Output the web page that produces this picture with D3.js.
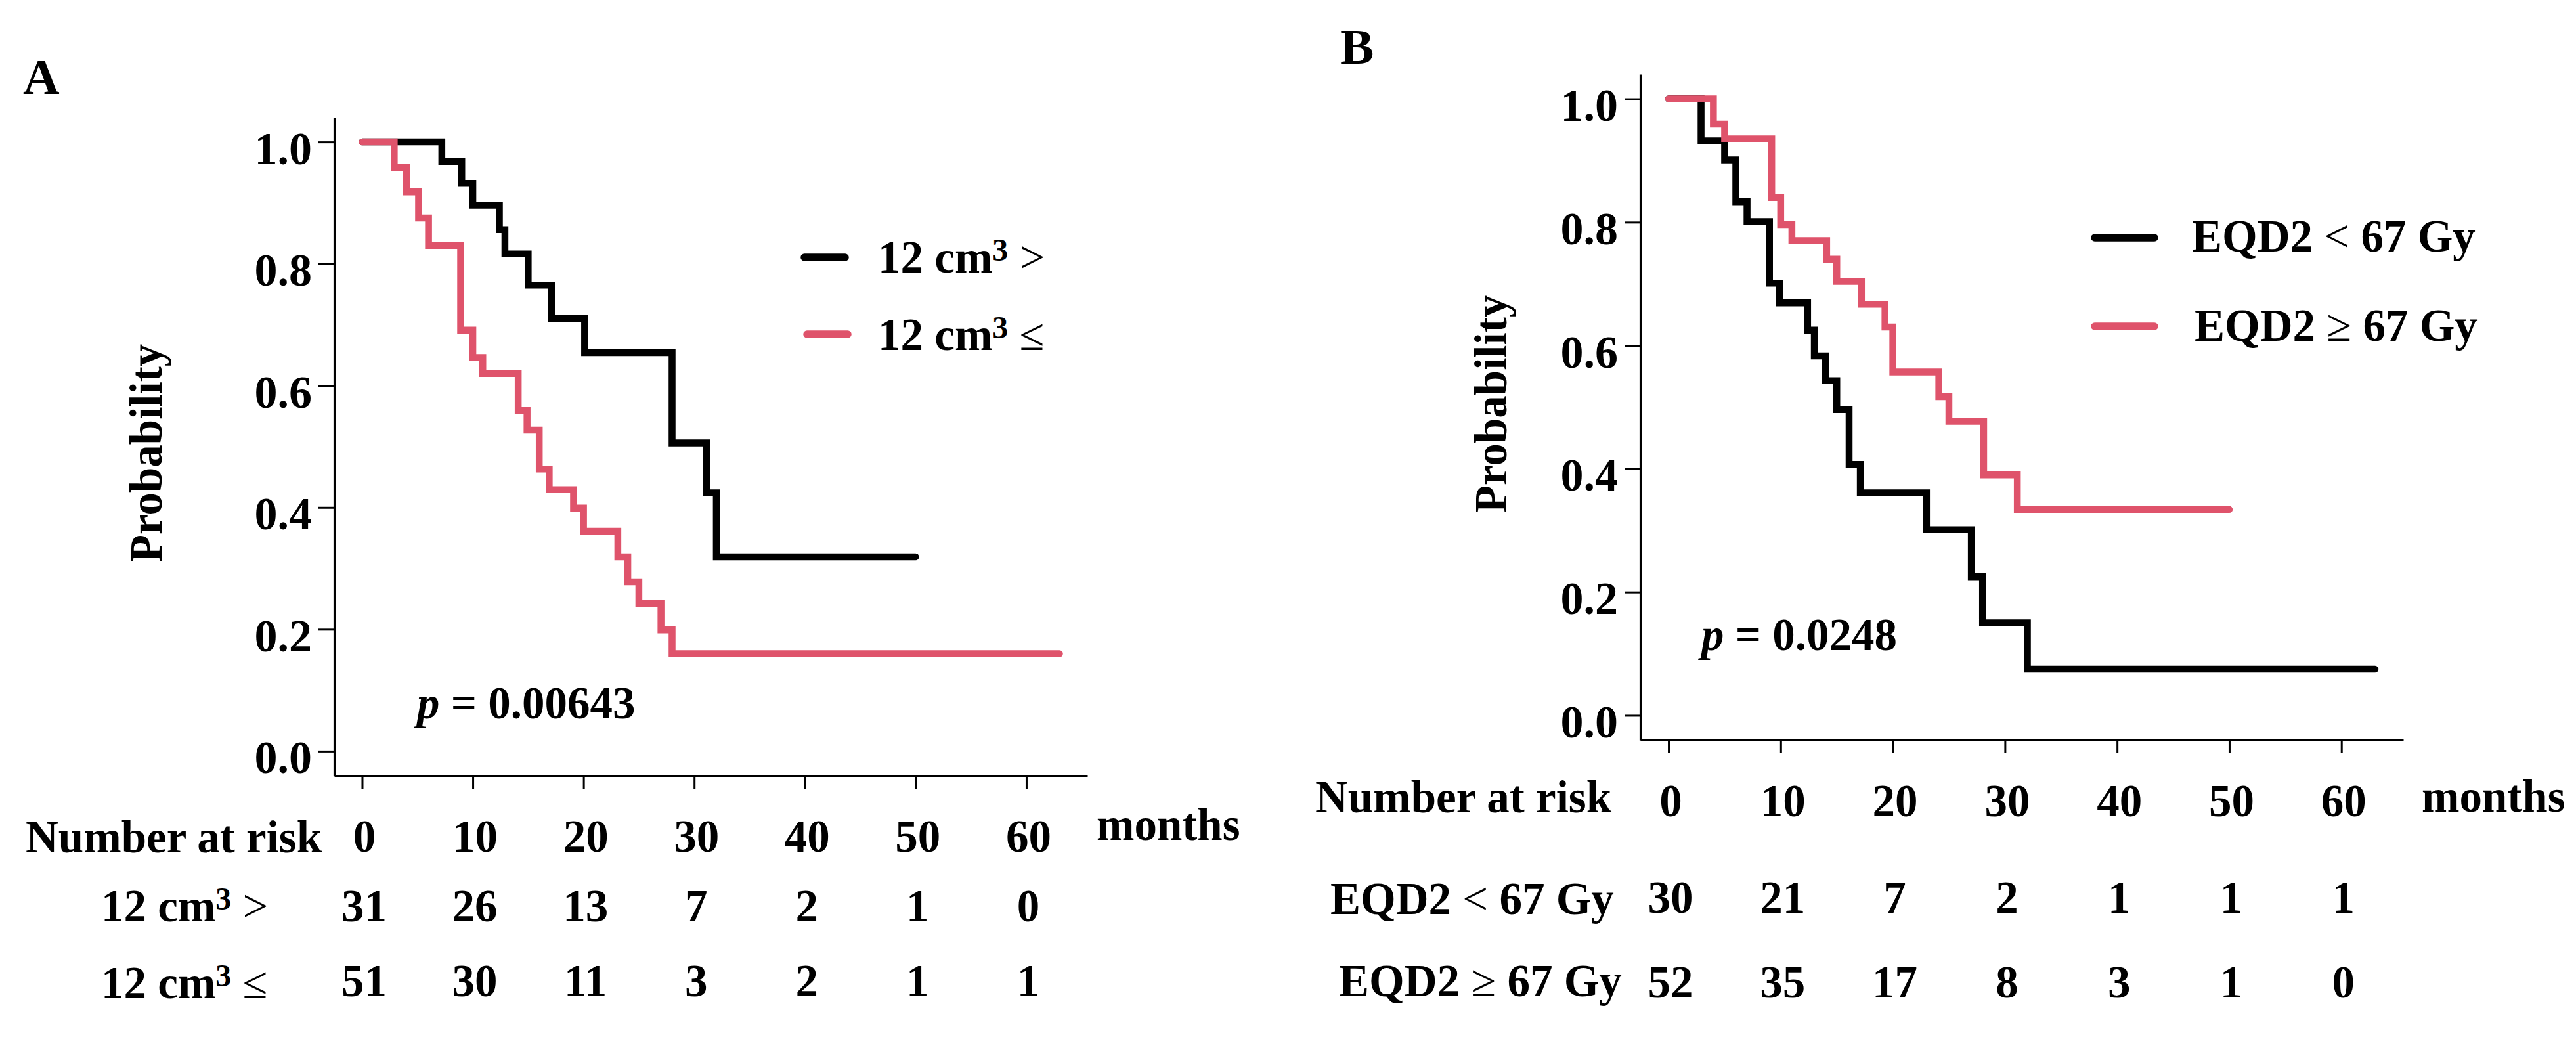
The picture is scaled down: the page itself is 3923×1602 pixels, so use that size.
<!DOCTYPE html>
<html><head><meta charset="utf-8">
<script src="https://cdn.jsdelivr.net/npm/d3@7"></script>
<style>
body{margin:0;background:#fff}
text{font-family:"Liberation Serif","Times New Roman",serif;font-weight:bold;fill:#000}
</style>
</head><body>
<svg id="chart" width="3923" height="1602"></svg>
<script>
// ---------- data ----------
const monthTicks = [0, 10, 20, 30, 40, 50, 60];
const probTicks = [0, 0.2, 0.4, 0.6, 0.8, 1.0];
const curveColors = ["#000000", "#DF536B"];

// Panel A: tumour volume
const aBlackTime = [0, 7.2, 9, 10, 12.4, 12.9, 15, 17.1, 20.1, 28, 31.1, 32, 50];
const aBlackSurv = [1.0, 0.968, 0.932, 0.896, 0.856, 0.816, 0.765, 0.710, 0.654, 0.506, 0.424, 0.319, 0.319];
const aRedTime = [0, 2.9, 4, 5.1, 6, 8.9, 10, 10.9, 14.1, 14.9, 16, 16.9, 19.1, 20, 23.1, 24, 25, 27, 28, 63];
const aRedSurv = [1.0, 0.958, 0.918, 0.875, 0.830, 0.691, 0.646, 0.620, 0.559, 0.527, 0.463, 0.429, 0.399, 0.361, 0.319, 0.278, 0.242, 0.199, 0.160, 0.160];
const aRiskBlack = [31, 26, 13, 7, 2, 1, 0];
const aRiskRed = [51, 30, 11, 3, 2, 1, 1];
const aPValue = "0.00643";

// Panel B: EQD2
const bBlackTime = [0, 2.9, 5, 6, 7, 9, 9.9, 12.4, 13, 14, 15, 16.1, 17.1, 23, 27, 28, 32, 63];
const bBlackSurv = [1.0, 0.932, 0.901, 0.833, 0.801, 0.701, 0.669, 0.625, 0.583, 0.543, 0.496, 0.407, 0.361, 0.301, 0.225, 0.150, 0.075, 0.075];
const bRedTime = [0, 4, 5, 9.2, 10, 11, 14.1, 15, 17.2, 19.3, 20, 24.1, 25, 28.1, 31.1, 50];
const bRedSurv = [1.0, 0.959, 0.935, 0.840, 0.796, 0.770, 0.740, 0.704, 0.667, 0.630, 0.557, 0.517, 0.477, 0.390, 0.334, 0.334];
const bRiskBlack = [30, 21, 7, 2, 1, 1, 1];
const bRiskRed = [52, 35, 17, 8, 3, 1, 0];
const bPValue = "0.0248";

// ---------- drawing ----------
const svg = d3.select("#chart");
const FS = 69;

function labelText(sel, parts) {
  let pendingDy = 0;
  parts.forEach(p => {
    const ts = sel.append("tspan").text(p.t);
    if (p.sup) {
      ts.attr("font-size", 48).attr("dy", -18 + pendingDy);
      pendingDy = 18;
    } else {
      if (pendingDy) ts.attr("dy", pendingDy);
      pendingDy = 0;
      if (p.sym) ts.attr("font-weight", "normal");
    }
  });
  return sel;
}

function panel(cfg) {
  const g = svg.append("g");
  const x = d3.scaleLinear().domain([-2.52, 65.52]).range([cfg.left, cfg.right]);
  const y = d3.scaleLinear().domain([-0.04, 1.04]).range([cfg.bottom, cfg.top]);

  // axes
  const ya = g.append("g").attr("transform", `translate(${cfg.left},0)`)
    .call(d3.axisLeft(y).tickValues(probTicks).tickFormat(d3.format(".1f"))
      .tickSize(24).tickSizeOuter(0).tickPadding(10));
  ya.selectAll("text").attr("font-size", 70).attr("dy", "0.47em")
    .style("font-family", "Liberation Serif").style("font-weight", "bold");
  const xa = g.append("g").attr("transform", `translate(0,${cfg.bottom})`)
    .call(d3.axisBottom(x).tickValues(monthTicks).tickFormat(d3.format("d"))
      .tickSize(20).tickSizeOuter(0).tickPadding(cfg.xPad));
  xa.selectAll("text").attr("font-size", FS).attr("dx", 3)
    .style("font-family", "Liberation Serif").style("font-weight", "bold");
  [ya, xa].forEach(a => {
    a.select(".domain").attr("stroke", "#000").attr("stroke-width", 3.2);
    a.selectAll(".tick line").attr("stroke", "#000").attr("stroke-width", 3);
  });

  // curves
  const line = d3.line().x(d => x(d[0])).y(d => y(d[1])).curve(d3.curveStepAfter);
  cfg.series.forEach((s, i) => {
    const pts = s.time.map((t, j) => [t, s.surv[j]]);
    g.append("path").attr("d", line(pts)).attr("fill", "none")
      .attr("stroke", curveColors[i]).attr("stroke-width", 10.5)
      .attr("stroke-linecap", "round").attr("stroke-linejoin", "miter");
  });

  // legend
  cfg.series.forEach((s, i) => {
    const L = cfg.legend[i];
    g.append("line").attr("x1", L.x1).attr("x2", L.x2).attr("y1", L.ly).attr("y2", L.ly)
      .attr("stroke", curveColors[i]).attr("stroke-width", 11.5).attr("stroke-linecap", "round");
    labelText(g.append("text").attr("x", L.tx).attr("y", L.ty).attr("font-size", FS), s.label);
  });

  // p value
  const pt = g.append("text").attr("x", cfg.pX).attr("y", cfg.pY).attr("font-size", FS);
  pt.append("tspan").attr("font-style", "italic").text("p");
  pt.append("tspan").text(" = " + cfg.p);

  // panel letter
  g.append("text").attr("x", cfg.letterX).attr("y", cfg.letterY).attr("font-size", 77).text(cfg.letter);

  // y title
  g.append("text").attr("transform", `translate(${cfg.yTitleX},${cfg.yTitleY}) rotate(-90)`)
    .attr("text-anchor", "middle").attr("font-size", FS).text("Probability");

  // risk table
  g.append("text").attr("x", cfg.nrX).attr("y", cfg.nrY).attr("font-size", FS).text("Number at risk");
  g.append("text").attr("x", cfg.monthsX).attr("y", cfg.monthsY).attr("font-size", FS).text("months");
  cfg.series.forEach((s, i) => {
    const R = cfg.rows[i];
    labelText(g.append("text").attr("x", R.lx).attr("y", R.ly).attr("font-size", FS), s.label);
    g.selectAll(null).data(s.risk).enter().append("text")
      .attr("x", (d, j) => x(monthTicks[j]) + 3).attr("y", R.ny)
      .attr("text-anchor", "middle").attr("font-size", FS).text(d => d);
  });
}

panel({
  left: 509, right: 1656, top: 179, bottom: 1181, xPad: 47,
  series: [
    {time: aBlackTime, surv: aBlackSurv, risk: aRiskBlack,
     label: [{t: "12 cm"}, {t: "3", sup: true}, {t: " "}, {t: ">", sym: true}]},
    {time: aRedTime, surv: aRedSurv, risk: aRiskRed,
     label: [{t: "12 cm"}, {t: "3", sup: true}, {t: " "}, {t: "≤", sym: true}]}
  ],
  legend: [{x1: 1225, x2: 1287, ly: 392, tx: 1337, ty: 415},
           {x1: 1229, x2: 1291, ly: 509, tx: 1337, ty: 533}],
  p: aPValue, pX: 635, pY: 1094,
  letter: "A", letterX: 35, letterY: 143,
  yTitleX: 246, yTitleY: 690,
  nrX: 39, nrY: 1298, monthsX: 1670, monthsY: 1279,
  rows: [{lx: 154, ly: 1403, ny: 1403}, {lx: 154, ly: 1520, ny: 1517}]
});

panel({
  left: 2498, right: 3660, top: 113, bottom: 1127, xPad: 47,
  series: [
    {time: bBlackTime, surv: bBlackSurv, risk: bRiskBlack,
     label: [{t: "EQD2 "}, {t: "<", sym: true}, {t: " 67 Gy"}]},
    {time: bRedTime, surv: bRedSurv, risk: bRiskRed,
     label: [{t: "EQD2 "}, {t: "≥", sym: true}, {t: " 67 Gy"}]}
  ],
  legend: [{x1: 3190, x2: 3281, ly: 362, tx: 3338, ty: 383},
           {x1: 3190, x2: 3281, ly: 497, tx: 3342, ty: 519}],
  p: bPValue, pX: 2591, pY: 990,
  letter: "B", letterX: 2041, letterY: 97,
  yTitleX: 2294, yTitleY: 615,
  nrX: 2003, nrY: 1237, monthsX: 3688, monthsY: 1236,
  rows: [{lx: 2026, ly: 1392, ny: 1390}, {lx: 2039, ly: 1517, ny: 1519}]
});
</script>
</body></html>
